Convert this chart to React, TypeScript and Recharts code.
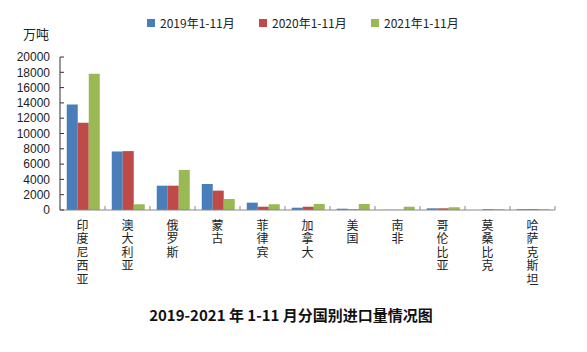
import React from 'react';
import { BarChart, Bar, XAxis, YAxis } from 'recharts';

const countries = ['印度尼西亚', '澳大利亚', '俄罗斯', '蒙古', '菲律宾', '加拿大', '美国', '南非', '哥伦比亚', '莫桑比克', '哈萨克斯坦'];
const y2019 = [13800, 7650, 3180, 3400, 960, 300, 170, 20, 220, 0, 110];
const y2020 = [11400, 7700, 3180, 2530, 430, 430, 80, 20, 220, 100, 110];
const y2021 = [17800, 750, 5240, 1440, 750, 790, 790, 430, 360, 100, 100];
const yTicks = [0, 2000, 4000, 6000, 8000, 10000, 12000, 14000, 16000, 18000, 20000];

const seriesNames = ['2019年1-11月', '2020年1-11月', '2021年1-11月'];
const colors = ['#4A7EBB', '#BE4B48', '#98B954'];

const data = countries.map((name, i) => ({
  name,
  a: y2019[i],
  b: y2020[i],
  c: y2021[i],
}));

// country names stacked one character per line, with separator ticks between categories
const CountryTick = (props: any) => {
  const { x, y, payload, index } = props;
  const half = payload.offset || 0;
  const chars = String(payload.value).split('');
  return (
    <g>
      <line x1={x - half} x2={x - half} y1={y} y2={y - 4} stroke='#888' />
      {index === countries.length - 1 && (
        <line x1={x + half} x2={x + half} y1={y} y2={y - 4} stroke='#888' />
      )}
      {chars.map((ch, i) => (
        <text
          key={i}
          x={x}
          y={y + 20 + i * 13.4}
          textAnchor='middle'
          fontSize={12}
          fill='#222'
          fontFamily='"Noto Sans CJK SC", sans-serif'
        >
          {ch}
        </text>
      ))}
    </g>
  );
};

const LegendBox = () => (
  <div style={{ position: 'absolute', left: 0, top: 14, width: 587, height: 18, fontFamily: '"Noto Sans CJK SC", "Liberation Serif", serif', fontSize: 12, color: '#222' }}>
    {seriesNames.map((s, i) => (
      <div key={s} style={{ position: 'absolute', left: 147 + i * 112, top: 0, display: 'flex', alignItems: 'center', whiteSpace: 'nowrap' }}>
        <span style={{ display: 'inline-block', width: 8, height: 8, background: colors[i], marginRight: 5 }} />
        <span>{s}</span>
      </div>
    ))}
  </div>
);

export default function App() {
  return (
    <div style={{ position: 'absolute', left: 0, top: 0, width: 587, height: 352, background: '#fff' }}>
      <BarChart
        width={587}
        height={352}
        data={data}
        margin={{ top: 57, right: 32, left: 0, bottom: 42 }}
        barCategoryGap='15%'
        barGap={0}
      >
        <XAxis
          dataKey='name'
          interval={0}
          height={100}
          tickLine={false}
          tickSize={0}
          tickMargin={0}
          axisLine={{ stroke: '#888' }}
          tick={<CountryTick />}
        />
        <YAxis
          width={60}
          domain={[0, 20000]}
          ticks={yTicks}
          interval={0}
          tickSize={-4}
          tickMargin={14}
          axisLine={{ stroke: '#333' }}
          tickLine={{ stroke: '#333' }}
          tick={{ fontSize: 12, fill: '#222', fontFamily: '"Liberation Sans", Arial, sans-serif' }}
        />
        <Bar dataKey='a' name={seriesNames[0]} fill={colors[0]} isAnimationActive={false} />
        <Bar dataKey='b' name={seriesNames[1]} fill={colors[1]} isAnimationActive={false} />
        <Bar dataKey='c' name={seriesNames[2]} fill={colors[2]} isAnimationActive={false} />
      </BarChart>
      <LegendBox />
      <div style={{ position: 'absolute', left: 23, top: 24, fontSize: 13, fontFamily: '"Noto Sans CJK SC", sans-serif', color: '#222' }}>万吨</div>
      <div
        style={{
          position: 'absolute',
          left: 0,
          width: 582,
          top: 304,
          textAlign: 'center',
          fontSize: 15,
          fontWeight: 'bold',
          fontFamily: '"Noto Sans CJK SC", sans-serif',
          color: '#111',
        }}
      >
        2019-2021 年 1-11 月分国别进口量情况图
      </div>
    </div>
  );
}
